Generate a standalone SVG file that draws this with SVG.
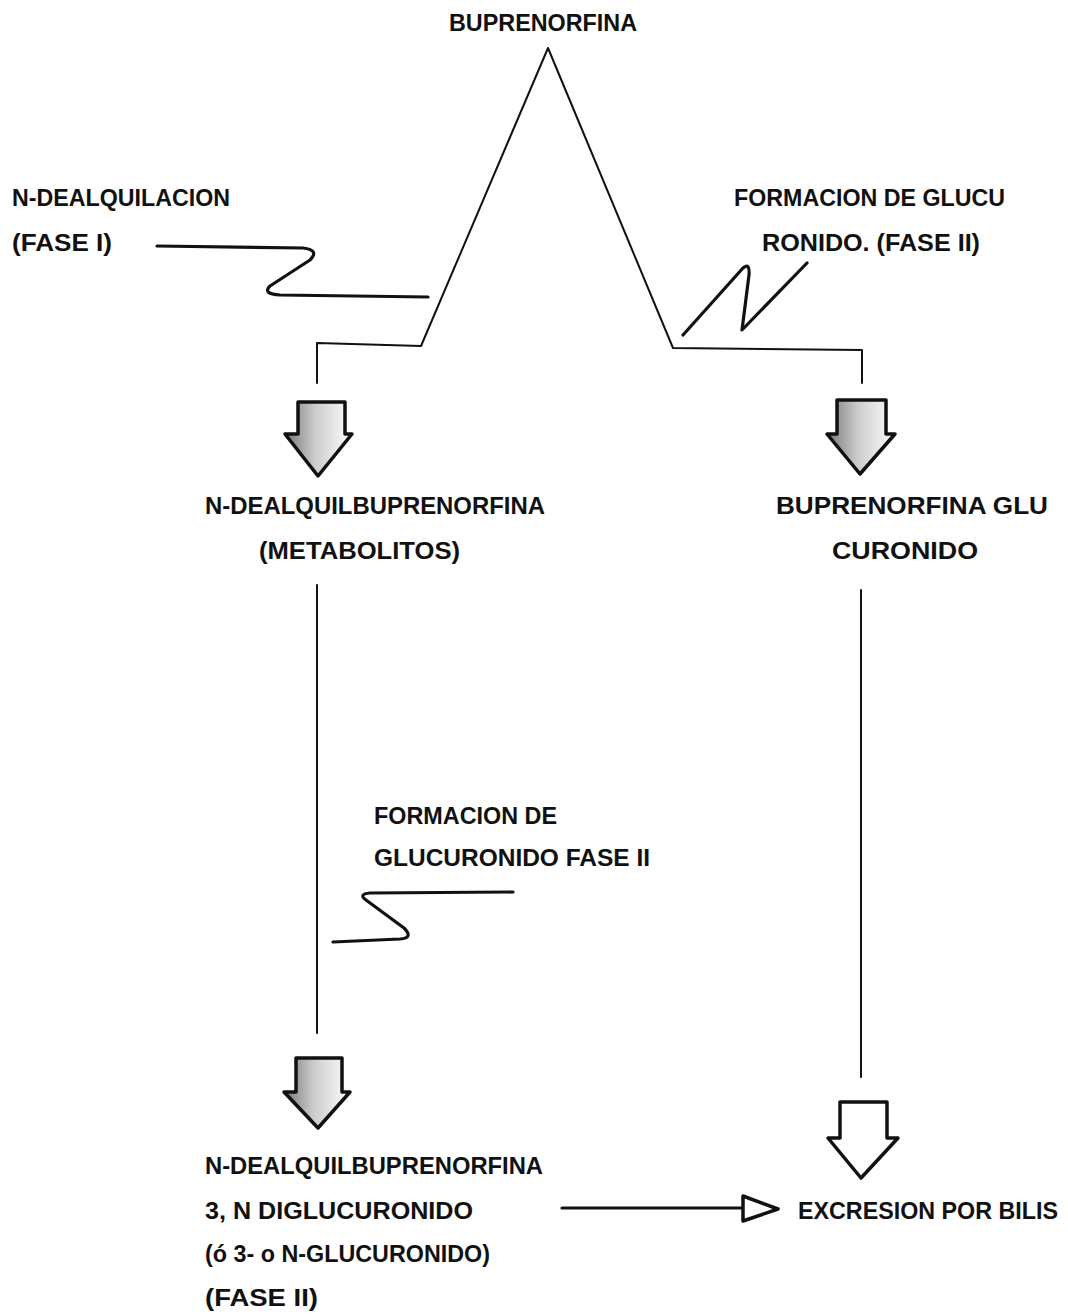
<svg xmlns="http://www.w3.org/2000/svg" width="1068" height="1314" viewBox="0 0 1068 1314">
<defs>
<style>
.t{font-family:"Liberation Sans",Arial,sans-serif;font-size:23px;font-weight:bold;fill:#111}
.ln{fill:none;stroke:#111;stroke-width:2;stroke-linecap:round;stroke-linejoin:round}
.zz{fill:none;stroke:#111;stroke-width:3.2;stroke-linecap:round;stroke-linejoin:round}
.ba{stroke:#111;stroke-width:3.5;stroke-linejoin:round}
.shade{fill:url(#g)}
.plain{fill:#fff}
</style>
<linearGradient id="g" x1="0" y1="0" x2="1" y2="0">
<stop offset="0" stop-color="#777"/>
<stop offset="0.45" stop-color="#ccc"/>
<stop offset="1" stop-color="#fff"/>
</linearGradient>
</defs>
<rect width="1068" height="1314" fill="#fff"/>

<g id="connectors">
<path class="ln" d="M317,383 L317,343 L421,346 L548,48 L673,348 L862,350 L862,383"/>
<path class="zz" d="M157,246 L303,248 Q320,250 310,260 L270,286 Q262,294 280,295 L428,297"/>
<path class="zz" d="M683,335 L743,268 Q750,262 749,275 L742,330 L807,263"/>
<path class="ln" d="M317,585 L317,1033"/>
<path class="ln" d="M861,590 L861,1077"/>
<path class="zz" d="M513,892 L370,893 Q358,894 366,900 L404,928 Q414,938 400,939 L333,942"/>
<path class="zz" d="M562,1208 L743,1208"/>
<path class="ba plain" d="M743,1196 L778,1209 L743,1221 Z"/>
</g>

<g id="arrow-top-left">
<path class="ba shade" d="M298,402 L345,402 L345,434 L352,434 L318,476 L285,434 L298,434 Z"/>
</g>
<g id="arrow-top-right">
<path class="ba shade" d="M837,400 L886,400 L886,434 L895,434 L860,474 L827,434 L837,434 Z"/>
</g>
<g id="arrow-bottom-left">
<path class="ba shade" d="M296,1058 L342,1058 L342,1092 L350,1092 L318,1128 L284,1092 L296,1092 Z"/>
</g>
<g id="arrow-bottom-right">
<path class="ba plain" d="M840,1102 L887,1102 L887,1138 L898,1138 L861,1178 L828,1138 L840,1138 Z"/>
</g>

<g id="node-buprenorfina">
<text class="t" x="449" y="31" textLength="188" lengthAdjust="spacingAndGlyphs">BUPRENORFINA</text>
</g>
<g id="label-n-dealquilacion">
<text class="t" x="12" y="206" textLength="218" lengthAdjust="spacingAndGlyphs">N-DEALQUILACION</text>
<text class="t" x="12" y="251" textLength="100" lengthAdjust="spacingAndGlyphs">(FASE I)</text>
</g>
<g id="label-formacion-glucu">
<text class="t" x="734" y="206" textLength="271" lengthAdjust="spacingAndGlyphs">FORMACION DE GLUCU</text>
<text class="t" x="762" y="251" textLength="218" lengthAdjust="spacingAndGlyphs">RONIDO. (FASE II)</text>
</g>
<g id="node-n-dealquil-metabolitos">
<text class="t" x="205" y="514" textLength="340" lengthAdjust="spacingAndGlyphs">N-DEALQUILBUPRENORFINA</text>
<text class="t" x="259" y="559" textLength="201" lengthAdjust="spacingAndGlyphs">(METABOLITOS)</text>
</g>
<g id="node-bup-glucuronido">
<text class="t" x="776" y="514" textLength="272" lengthAdjust="spacingAndGlyphs">BUPRENORFINA GLU</text>
<text class="t" x="832" y="559" textLength="146" lengthAdjust="spacingAndGlyphs">CURONIDO</text>
</g>
<g id="label-formacion-fase2">
<text class="t" x="374" y="824" textLength="183" lengthAdjust="spacingAndGlyphs">FORMACION DE</text>
<text class="t" x="374" y="866" textLength="276" lengthAdjust="spacingAndGlyphs">GLUCURONIDO FASE II</text>
</g>
<g id="node-diglucuronido">
<text class="t" x="205" y="1174" textLength="338" lengthAdjust="spacingAndGlyphs">N-DEALQUILBUPRENORFINA</text>
<text class="t" x="205" y="1219" textLength="268" lengthAdjust="spacingAndGlyphs">3, N DIGLUCURONIDO</text>
<text class="t" x="205" y="1262" textLength="285" lengthAdjust="spacingAndGlyphs">(ó 3- o N-GLUCURONIDO)</text>
<text class="t" x="205" y="1306" textLength="113" lengthAdjust="spacingAndGlyphs">(FASE II)</text>
</g>
<g id="node-excresion">
<text class="t" x="798" y="1219" textLength="260" lengthAdjust="spacingAndGlyphs">EXCRESION POR BILIS</text>
</g>
</svg>
